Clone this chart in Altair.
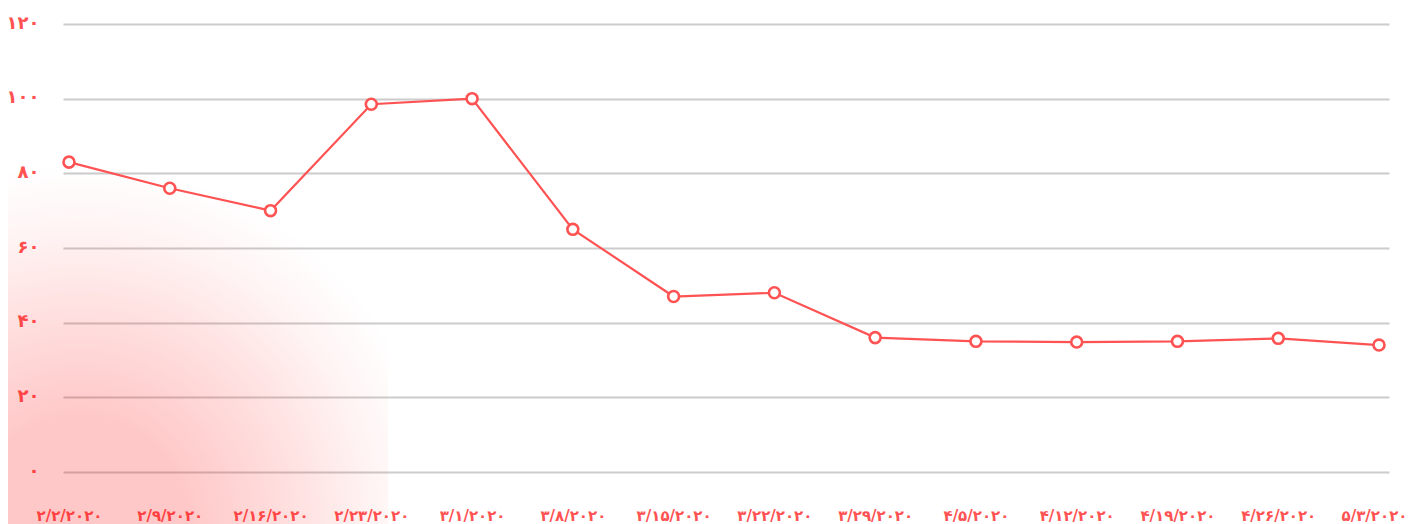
import altair as alt
import pandas as pd

dates = ["۲/۲/۲۰۲۰", "۲/۹/۲۰۲۰", "۲/۱۶/۲۰۲۰", "۲/۲۳/۲۰۲۰", "۳/۱/۲۰۲۰", "۳/۸/۲۰۲۰",
         "۳/۱۵/۲۰۲۰", "۳/۲۲/۲۰۲۰", "۳/۲۹/۲۰۲۰", "۴/۵/۲۰۲۰", "۴/۱۲/۲۰۲۰", "۴/۱۹/۲۰۲۰",
         "۴/۲۶/۲۰۲۰", "۵/۳/۲۰۲۰"]
values = [83, 76, 70, 98.5, 100, 65, 47, 48, 36, 35, 34.8, 35, 35.8, 34]
y_ticks = [0, 20, 40, 60, 80, 100, 120]
y_tick_labels = ["۰", "۲۰", "۴۰", "۶۰", "۸۰", "۱۰۰", "۱۲۰"]

RED = "#ff5252"
FONT = "DejaVu Sans"

idx = list(range(len(dates)))
df = pd.DataFrame({"i": idx, "date": dates, "value": values})

y_label_expr = " : ".join(
    f"datum.value == {v} ? '{t}'" for v, t in zip(y_ticks, y_tick_labels)
) + " : ''"
x_label_expr = " : ".join(
    f"datum.value == {i} ? '{d}'" for i, d in zip(idx, dates)
) + " : ''"

x_enc = alt.X("i:Q",
              scale=alt.Scale(domain=[-0.0595, 13.0992], nice=False, zero=False),
              axis=alt.Axis(title=None, values=idx, labelExpr=x_label_expr,
                            labelAngle=0, domain=False, ticks=False,
                            grid=False, labelPadding=36, labelColor=RED,
                            labelFont=FONT, labelFontSize=15, labelFontWeight="bold",
                            labelFlush=False, labelOverlap=False,
                            labelOffset={"condition": {"test": f"datum.value == {idx[-1]}",
                                                       "value": -5},
                                         "value": 0}))
y_enc = alt.Y("value:Q",
              scale=alt.Scale(domain=[0, 120], nice=False, zero=True),
              axis=alt.Axis(title=None, values=y_ticks, labelExpr=y_label_expr,
                            domain=False, ticks=False, grid=True, gridColor="#cccccc",
                            gridWidth=2, labelPadding=24, labelColor=RED,
                            labelFont=FONT, labelFontSize=18, labelFontWeight="bold",
                            labelBaseline="middle", labelOffset=-1))

a = 0.216
gradient = {
    "gradient": "radial",
    "x1": 0.3833, "y1": 0.5, "r1": 0,
    "x2": 0.3833, "y2": 0.5, "r2": 0.5,
    "stops": [
        {"offset": 0, "color": f"rgba(255,0,0,{a})"},
        {"offset": 0.3, "color": f"rgba(255,0,0,{a})"},
        {"offset": 0.63, "color": f"rgba(255,0,0,{a * 0.5:.3f})"},
        {"offset": 0.82, "color": f"rgba(255,0,0,{a * 0.2:.3f})"},
        {"offset": 1, "color": "rgba(255,0,0,0)"},
    ],
}

glow = alt.Chart(alt.Data(values=[{"k": 1}])).mark_rect(fill=gradient).encode(
    x=alt.value(-123), x2=alt.value(325), y=alt.value(140), y2=alt.value(860)
)

base = alt.Chart(df).encode(x=x_enc, y=y_enc)
line = base.mark_line(color=RED, strokeWidth=2.2)
pts = base.mark_point(filled=True, fill="white", stroke=RED, strokeWidth=2.6,
                      size=120, opacity=1)

chart = alt.layer(glow, line, pts).properties(
    width=1326, height=448,
    padding={"left": 55, "top": 16, "right": 20, "bottom": 52},
    autosize=alt.AutoSizeParams(type="none"),
).configure_view(stroke=None)

chart.save("out.html", embed_options={"renderer": "svg", "actions": False})
